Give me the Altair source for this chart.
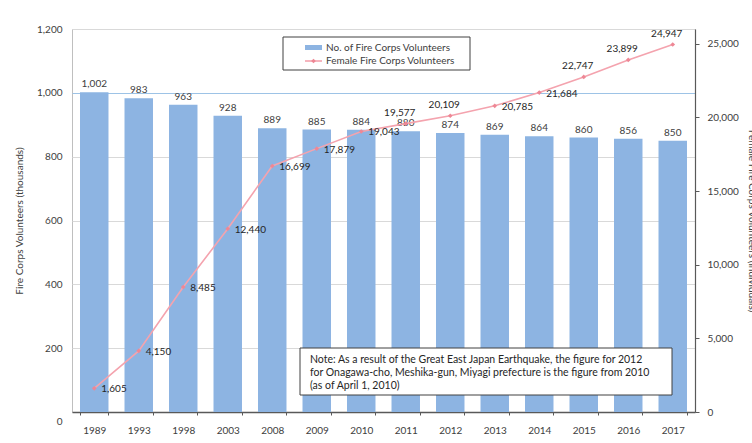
import altair as alt
import pandas as pd

years = ["1989", "1993", "1998", "2003", "2008", "2009", "2010", "2011",
         "2012", "2013", "2014", "2015", "2016", "2017"]
volunteers = [1002, 983, 963, 928, 889, 885, 884, 880, 874, 869, 864, 860, 856, 850]
female = [1605, 4150, 8485, 12440, 16699, 17879, 19043, 19577, 20109, 20785,
          21684, 22747, 23899, 24947]

legend_labels = ["No. of Fire Corps Volunteers", "Female Fire Corps Volunteers"]
note_lines = [
    "Note: As a result of the Great East Japan Earthquake, the figure for 2012",
    "for Onagawa-cho, Meshika-gun, Miyagi prefecture is the figure from 2010",
    "(as of April 1, 2010)",
]
left_title = "Fire Corps Volunteers (thousands)"
right_title = "Female Fire Corps Volunteers (individuals)"

df = pd.DataFrame({"year": years, "vol": volunteers, "fem": female})

FONT = "Lato"
BAR = "#8DB4E2"
LINE = "#F4A3AE"
MARK = "#EE8795"
TXT = "#404040"
DTXT = "#262626"

W, H = 623, 383

xenc = alt.X("year:N", sort=years, title=None,
             scale=alt.Scale(paddingInner=0.36, paddingOuter=0.18),
             axis=alt.Axis(labelAngle=0, labelFont=FONT, labelFontSize=10,
                           labelColor=TXT, labelPadding=10, domainColor="#595959",
                           domainWidth=1.5, tickColor="#595959", tickSize=3,
                           tickBand="extent", grid=False))

base = alt.Chart(df)

bars = base.mark_bar(color=BAR).encode(
    x=xenc,
    y=alt.Y("vol:Q", scale=alt.Scale(domain=[0, 1200]), title=left_title,
            axis=alt.Axis(values=[0, 200, 400, 600, 800, 1000, 1200], format=",d",
                          labelFont=FONT, labelFontSize=10, labelColor=TXT,
                          titleFont=FONT, titleFontSize=10, titleFontWeight="normal",
                          titleColor=TXT, titlePadding=12, domain=False, ticks=False,
                          labelPadding=10,
                          labelOffset={"condition": {"test": "datum.value === 0", "value": 9}, "value": 0},
                          gridColor={"condition": {"test": "datum.value === 1000", "value": "#9DC3E6"}, "value": "#D9D9D9"},
                          gridWidth=1)),
)
bar_text = base.mark_text(baseline="bottom", dy=-3, font=FONT, fontSize=10, color=TXT).encode(
    x=alt.X("year:N", sort=years),
    y=alt.Y("vol:Q", scale=alt.Scale(domain=[0, 1200])),
    text=alt.Text("vol:Q", format=",d"),
)
left = alt.layer(bars, bar_text)

yr = alt.Y("fem:Q", scale=alt.Scale(domain=[0, 25000]), title=right_title,
           axis=alt.Axis(orient="right", values=[0, 5000, 10000, 15000, 20000, 25000],
                         format=",d", labelFont=FONT, labelFontSize=10, labelColor=TXT,
                         titleFont=FONT, titleFontSize=10, titleFontWeight="normal",
                         titleColor=TXT, titlePadding=8, domainColor="#595959",
                         domainWidth=1.2, tickColor="#595959", tickSize=4,
                         labelPadding=8, grid=False))

line = base.mark_line(color=LINE, strokeWidth=1.6).encode(
    x=alt.X("year:N", sort=years), y=yr)
pts = base.mark_point(shape="diamond", filled=True, color=MARK, size=22, opacity=1).encode(
    x=alt.X("year:N", sort=years), y=alt.Y("fem:Q"))

right_years = ["1989", "1993", "1998", "2003", "2008", "2009", "2010", "2013", "2014"]
above_years = ["2011", "2012", "2015", "2016", "2017"]

def lab(sel, **kw):
    return base.transform_filter(
        alt.FieldOneOfPredicate(field="year", oneOf=sel)
    ).mark_text(font=FONT, fontSize=10, color=DTXT, **kw).encode(
        x=alt.X("year:N", sort=years), y=alt.Y("fem:Q"),
        text=alt.Text("fem:Q", format=",d"))

lab_r = lab(right_years, align="left", baseline="middle", dx=7, dy=1)
lab_a = lab(above_years, align="center", baseline="bottom", dx=-6, dy=-6)

# legend box
one = pd.DataFrame({"k": [0]})
dec = alt.Chart(one)
leg_box = dec.mark_rect(fill="white", stroke="#404040", strokeWidth=1).encode(
    x=alt.value(211), x2=alt.value(398), y=alt.value(8), y2=alt.value(41))
leg_bar = dec.mark_rect(fill=BAR).encode(
    x=alt.value(233), x2=alt.value(250), y=alt.value(16), y2=alt.value(21))
leg_line = dec.mark_rule(color=LINE, strokeWidth=1.6).encode(
    x=alt.value(233), x2=alt.value(250), y=alt.value(32))
leg_pt = dec.mark_point(shape="diamond", filled=True, color=MARK, size=22, opacity=1).encode(
    x=alt.value(241.5), y=alt.value(32))
leg_t1 = dec.mark_text(align="left", baseline="middle", font=FONT, fontSize=10, color=TXT,
                       text=legend_labels[0]).encode(x=alt.value(254), y=alt.value(18.5))
leg_t2 = dec.mark_text(align="left", baseline="middle", font=FONT, fontSize=10, color=TXT,
                       text=legend_labels[1]).encode(x=alt.value(254), y=alt.value(32))

note_box = dec.mark_rect(fill="white", stroke="#404040", strokeWidth=1).encode(
    x=alt.value(228), x2=alt.value(600), y=alt.value(319), y2=alt.value(366))
note_layers = [
    dec.mark_text(align="left", baseline="middle", font=FONT, fontSize=10.5,
                  color=DTXT, text=t).encode(x=alt.value(238), y=alt.value(331 + 13 * i))
    for i, t in enumerate(note_lines)
]

right = alt.layer(line, pts, lab_r, lab_a)

decor = alt.layer(leg_box, leg_bar, leg_line, leg_pt, leg_t1, leg_t2, note_box, *note_layers)

chart = alt.layer(left, right, decor).resolve_scale(y="independent").properties(
    width=W, height=H,
    autosize=alt.AutoSizeParams(type="none"),
    padding={"left": 72, "top": 29, "right": 57, "bottom": 31},
    background="white",
).configure_view(stroke="#BFBFBF", strokeWidth=1)

chart.save("out.html", embed_options={"renderer": "svg", "actions": False})
